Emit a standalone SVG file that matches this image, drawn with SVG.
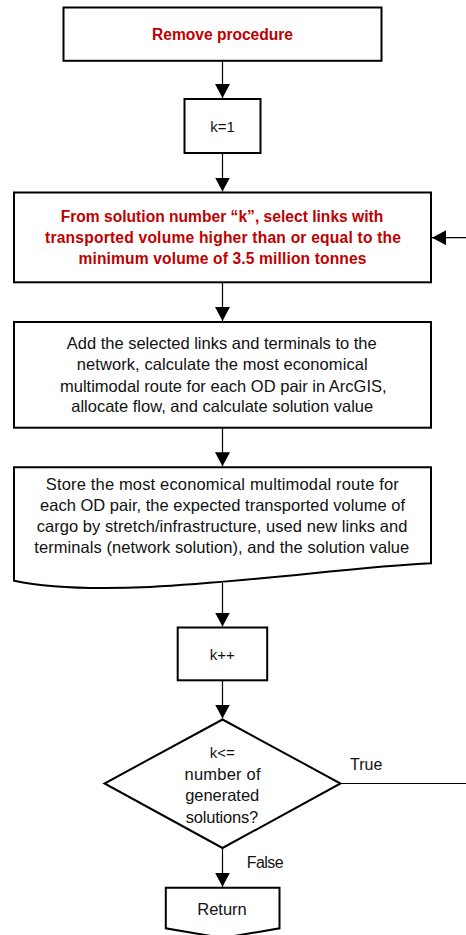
<svg xmlns="http://www.w3.org/2000/svg" width="466" height="935" viewBox="0 0 466 935">
<style>
.box{fill:#fff;stroke:#000;stroke-width:2}
.conn{fill:none;stroke:#000;stroke-width:1.2}
.t{font-family:"Liberation Sans",Arial,sans-serif;font-size:16.5px;fill:#111;text-anchor:middle}
.s{font-family:"Liberation Sans",Arial,sans-serif;font-size:15px;fill:#111;text-anchor:middle}
.r{font-family:"Liberation Sans",Arial,sans-serif;font-size:15.6px;font-weight:bold;fill:#c00000;text-anchor:middle}
.l{font-family:"Liberation Sans",Arial,sans-serif;font-size:16px;fill:#111}
</style>
<defs>
<marker id="ah" markerUnits="userSpaceOnUse" markerWidth="15" markerHeight="15" refX="14" refY="7.5" orient="auto">
<path d="M0,0 L14,7.5 L0,15 Z" fill="#000"/>
</marker>
</defs>
<rect width="466" height="935" fill="#fff"/>
<g id="connectors">
<line class="conn" x1="222.5" y1="61" x2="222.5" y2="98" marker-end="url(#ah)"/>
<line class="conn" x1="222.5" y1="153" x2="222.5" y2="191.5" marker-end="url(#ah)"/>
<line class="conn" x1="222.5" y1="282.3" x2="222.5" y2="321" marker-end="url(#ah)"/>
<line class="conn" x1="222.5" y1="427.7" x2="222.5" y2="466.2" marker-end="url(#ah)"/>
<line class="conn" x1="222.5" y1="583" x2="222.5" y2="626.5" marker-end="url(#ah)"/>
<line class="conn" x1="222.5" y1="680.3" x2="222.5" y2="718.5" marker-end="url(#ah)"/>
<line class="conn" x1="222.5" y1="848" x2="222.5" y2="886.7" marker-end="url(#ah)"/>
<path class="conn" d="M340.5,783.5 H468 V237.7 H432" stroke="#333" marker-end="url(#ah)"/>
<text class="l" x="350" y="770">True</text>
<text class="l" x="246.7" y="868" textLength="37">False</text>
</g>
<g id="n1">
<rect class="box" x="63.5" y="7.5" width="318" height="53.3"/>
<text class="r" x="222.5" y="40" textLength="141">Remove procedure</text>
</g>
<g id="n2">
<rect class="box" x="184.5" y="99" width="76" height="54"/>
<text class="s" x="222.5" y="132">k=1</text>
</g>
<g id="n3">
<rect class="box" x="14" y="192.5" width="417" height="89.8"/>
<text class="r" x="222" y="222" textLength="322.6">From solution number “k”, select links with</text>
<text class="r" x="223" y="243" textLength="356">transported volume higher than or equal to the</text>
<text class="r" x="222.5" y="264" textLength="288">minimum volume of 3.5 million tonnes</text>
</g>
<g id="n4">
<rect class="box" x="14" y="322" width="417" height="105.7"/>
<text class="t" x="221.7" y="349" textLength="310">Add the selected links and terminals to the</text>
<text class="t" x="222.2" y="370" textLength="291">network, calculate the most economical</text>
<text class="t" x="223.3" y="391.5" textLength="326.7">multimodal route for each OD pair in ArcGIS,</text>
<text class="t" x="222.2" y="412.3" textLength="302">allocate flow, and calculate solution value</text>
</g>
<g id="n5">
<path class="box" d="M14,467.2 H431 V563.3 C320,568 120,603 14,580.7 Z"/>
<text class="t" x="222.3" y="490" textLength="353">Store the most economical multimodal route for</text>
<text class="t" x="222.5" y="511" textLength="365">each OD pair, the expected transported volume of</text>
<text class="t" x="222" y="532.3" textLength="370.7">cargo by stretch/infrastructure, used new links and</text>
<text class="t" x="221.8" y="553.3" textLength="375">terminals (network solution), and the solution value</text>
</g>
<g id="n6">
<rect class="box" x="177.7" y="627.5" width="89.5" height="52.8"/>
<text class="s" x="222.2" y="659.5">k++</text>
</g>
<g id="n7">
<polygon class="box" points="222.5,719.5 340.5,783.5 222.5,848 104.5,783.5"/>
<text class="s" x="222.2" y="758">k&lt;=</text>
<text class="t" x="222.5" y="780" textLength="76">number of</text>
<text class="t" x="222.2" y="801" textLength="74">generated</text>
<text class="t" x="222" y="822.5" textLength="72.6">solutions?</text>
</g>
<g id="n8">
<path class="box" d="M165.8,887.7 H279.5 V928.3 L222.5,938 L165.8,928.3 Z"/>
<text class="t" x="222" y="915">Return</text>
</g>
</svg>
